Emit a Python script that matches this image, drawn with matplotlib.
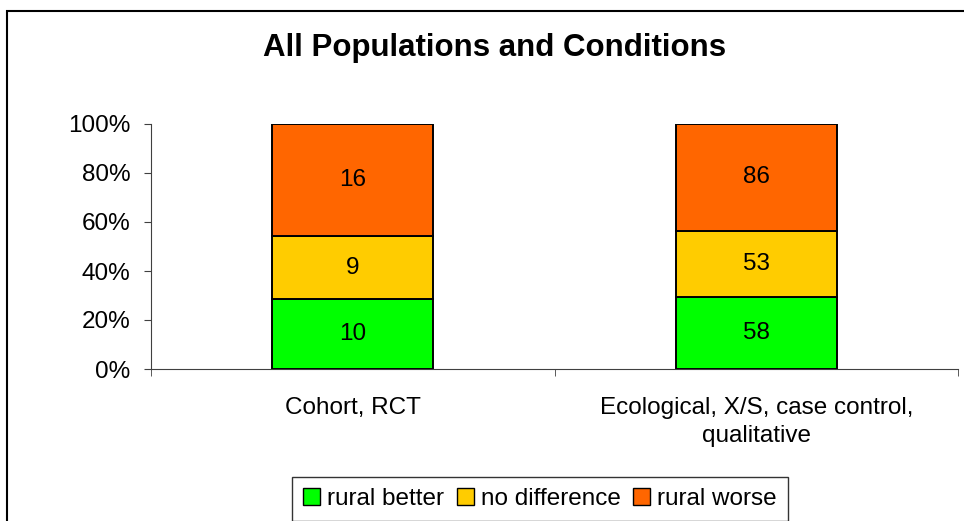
import numpy as np
import matplotlib.pyplot as plt
from matplotlib.patches import Rectangle

plt.rcParams['font.family'] = ['Liberation Sans', 'DejaVu Sans']

categories = ['Cohort, RCT', 'Ecological, X/S, case control,\nqualitative']
series_names = ['rural better', 'no difference', 'rural worse']
rural_better = [10, 58]
no_difference = [9, 53]
rural_worse = [16, 86]
colors = ['#00FF00', '#FFCC00', '#FF6600']

counts = np.array([rural_better, no_difference, rural_worse], dtype=float)
shares = counts / counts.sum(axis=0)

fs = 17.5

fig = plt.figure(figsize=(9.64, 5.21), dpi=100)
ax = fig.add_axes([151 / 964, 1 - 369 / 521, (958 - 151) / 964, (369 - 124) / 521])

x = np.arange(len(categories)) + 0.5
bottom = np.zeros(len(categories))
for name, share, cnt, col in zip(series_names, shares, counts, colors):
    bars = ax.bar(x, share, 0.4, bottom=bottom, color=col, edgecolor='black',
                  linewidth=1.4, label=name)
    for xi, b, s, c in zip(x, bottom, share, cnt):
        ax.text(xi, b + s / 2, f'{int(c)}', ha='center', va='center', fontsize=fs)
    bottom += share

ax.set_xlim(0, len(categories))
ax.set_ylim(0, 1)
ax.set_yticks(np.linspace(0, 1, 6))
ax.set_yticklabels([f'{int(v * 100)}%' for v in np.linspace(0, 1, 6)], fontsize=fs)
ax.set_xticks(x)
ax.set_xticklabels(categories, fontsize=fs, linespacing=1.35)
ax.set_xticks(np.arange(len(categories) + 1), minor=True)
ax.tick_params(axis='x', which='major', length=0, pad=20)
ax.tick_params(axis='x', which='minor', length=5, color='#404040')
ax.tick_params(axis='y', length=5, color='#404040', pad=10)
for s in ['top', 'right']:
    ax.spines[s].set_visible(False)
for s in ['left', 'bottom']:
    ax.spines[s].set_color('#404040')

fig.text(495 / 964, 1 - 48 / 521, 'All Populations and Conditions', ha='center',
         va='center', fontsize=22.5, fontweight='bold')

leg = fig.legend(loc='center', bbox_to_anchor=(540 / 964, 1 - 499 / 521), ncol=3,
                 fontsize=fs, frameon=True, fancybox=False, edgecolor='black',
                 handlelength=0.7, handleheight=0.7, handletextpad=0.3,
                 columnspacing=0.5, borderpad=0.45)
leg.get_frame().set_linewidth(1.0)
for h in leg.legend_handles:
    h.set_linewidth(1.0)

fig.patches.append(Rectangle((7 / 964, -0.1), 1.2, 1.1 - 11 / 521, transform=fig.transFigure,
                             fill=False, edgecolor='black', linewidth=1.5))

fig.savefig('out.png', dpi=100)
